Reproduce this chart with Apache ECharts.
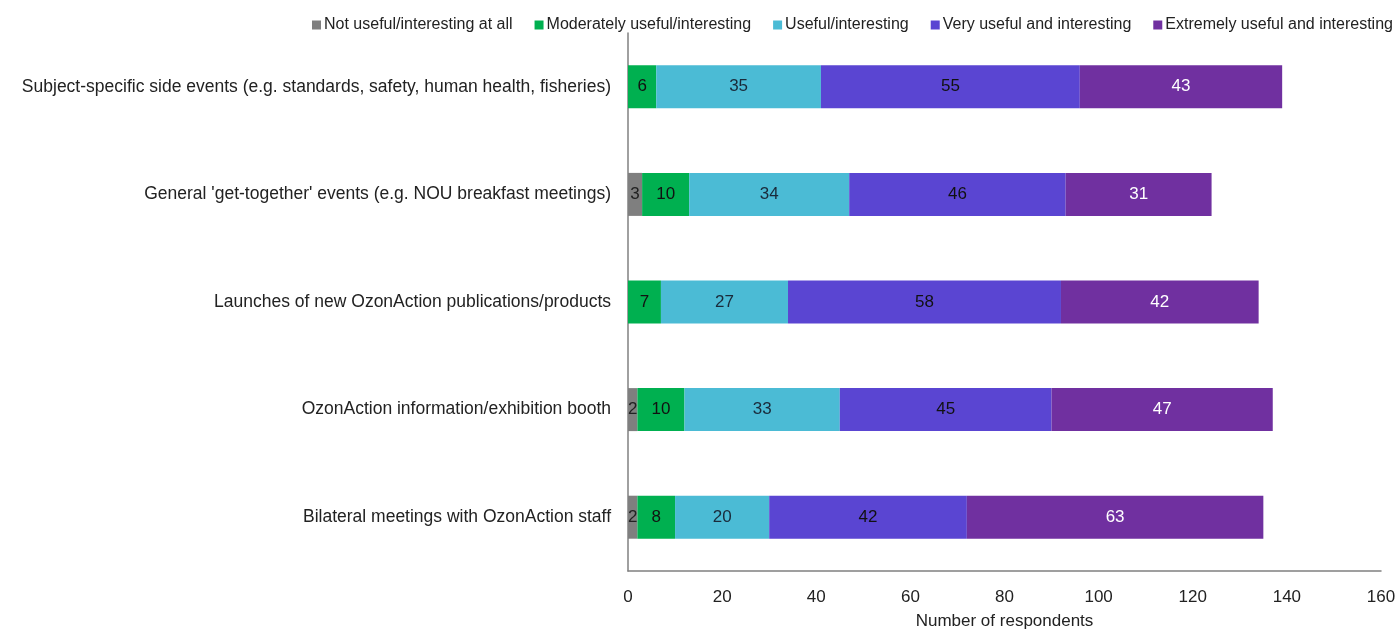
<!DOCTYPE html>
<html><head><meta charset="utf-8">
<script src="https://cdn.jsdelivr.net/npm/echarts@6/dist/echarts.min.js"></script>
<style>html,body{margin:0;padding:0;background:#fff}#c{width:1398px;height:630px}</style>
</head><body><div id="c"></div>
<script>
const categories = [
  "Subject-specific side events (e.g. standards, safety, human health, fisheries)",
  "General 'get-together' events (e.g. NOU breakfast meetings)",
  "Launches of new OzonAction publications/products",
  "OzonAction information/exhibition booth",
  "Bilateral meetings with OzonAction staff"
];
const seriesNames = ["Not useful/interesting at all","Moderately useful/interesting","Useful/interesting","Very useful and interesting","Extremely useful and interesting"];
const notUseful = [0, 3, 0, 2, 2];
const moderately = [6, 10, 7, 10, 8];
const useful = [35, 34, 27, 33, 20];
const veryUseful = [55, 46, 58, 45, 42];
const extremely = [43, 31, 42, 47, 63];
const xTicks = [0, 20, 40, 60, 80, 100, 120, 140, 160];

const colors = ["#7f7f7f", "#00b050", "#4bbbd5", "#5a45d2", "#7030a0"];
const labelColors = ["#222", "#111", "#1a2a3a", "#111", "#fff"];
const values = [notUseful, moderately, useful, veryUseful, extremely];
const FONT = "Liberation Sans";

const chart = echarts.init(document.getElementById('c'));
chart.setOption({
  animation: false,
  textStyle: {fontFamily: FONT},
  legend: {
    top: 12, left: 307, itemGap: 22, itemWidth: 9, itemHeight: 9,
    icon: 'rect',
    textStyle: {fontSize: 16, color: '#222', fontFamily: FONT, padding: [0,0,0,-2]},
    data: seriesNames
  },
  grid: {left: 628, right: 17, top: 33, bottom: 59, containLabel: false, outerBoundsMode: 'none'},
  xAxis: {
    type: 'value', min: 0, max: 160, interval: 20,
    name: 'Number of respondents', nameLocation: 'middle', nameGap: 42,
    nameTextStyle: {fontSize: 17, color: '#222', fontFamily: FONT},
    axisLine: {show: true, lineStyle: {color: '#808080', width: 1.5}},
    axisTick: {show: false},
    splitLine: {show: false},
    axisLabel: {fontSize: 17, color: '#222', margin: 18, fontFamily: FONT,
      formatter: v => xTicks.includes(v) ? String(v) : ''}
  },
  yAxis: {
    type: 'category', data: categories, inverse: true,
    axisLine: {show: true, lineStyle: {color: '#808080', width: 1.5}},
    axisTick: {show: false},
    axisLabel: {fontSize: 17.5, color: '#222', margin: 17, fontFamily: FONT}
  },
  series: seriesNames.map((n, i) => ({
    name: n, type: 'bar', stack: 'total', barWidth: 43,
    itemStyle: {color: colors[i]},
    label: {
      show: true, position: 'inside', fontSize: 17, color: labelColors[i], fontFamily: FONT,
      formatter: p => p.value ? String(p.value) : ''
    },
    data: values[i]
  }))
});
</script></body></html>
